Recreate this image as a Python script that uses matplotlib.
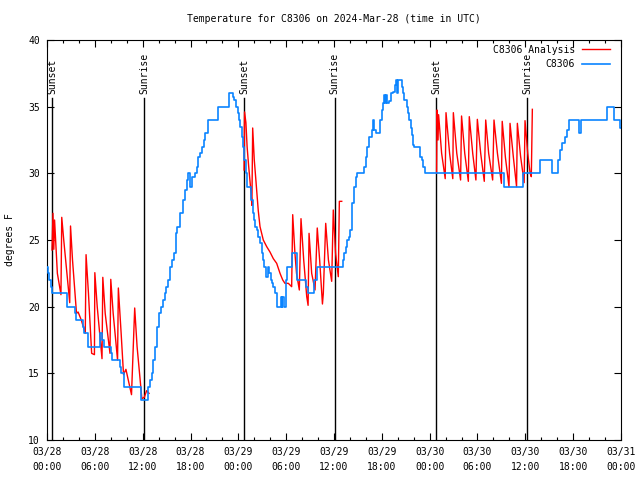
import matplotlib
matplotlib.use("Agg")
import matplotlib.pyplot as plt
from matplotlib.ticker import FixedLocator, MultipleLocator
import numpy as np

# ---- data (hours since 2024-03-28 00:00 UTC) ----
obs_hours = [0.00, 0.13, 0.31, 0.50, 0.63, 2.57, 3.51, 3.64, 4.52, 4.64, 5.14, 6.65, 6.96, 7.15,
             8.03, 8.15, 9.16, 9.28, 9.66, 11.79, 12.67, 12.92, 13.11, 13.30, 13.55, 13.80, 14.05,
             14.30, 14.55, 14.74, 14.93, 15.18, 15.43, 15.68, 15.87, 16.12, 16.31, 16.68, 17.00,
             17.12, 17.31, 17.50, 17.69, 17.94, 18.19, 18.56, 18.82, 19.00, 19.19, 19.44, 19.69,
             19.88, 20.20, 21.39, 22.89, 23.27, 23.46, 23.65, 23.90, 24.08, 24.21, 24.40, 24.59,
             24.77, 24.90, 25.03, 25.65, 25.78, 25.97, 26.09, 26.28, 26.47, 26.72, 26.91, 27.09,
             27.22, 27.47, 27.66, 27.85, 28.04, 28.22, 28.41, 28.60, 28.79, 28.91, 29.29, 29.42,
             29.54, 29.67, 29.98, 30.11, 30.79, 31.36, 32.55, 32.74, 33.43, 33.55, 33.81, 37.07,
             37.26, 37.51, 37.67, 37.88, 38.01, 38.20, 38.32, 38.51, 38.76, 38.92, 39.76, 39.98,
             40.18, 40.43, 40.73, 40.93, 41.06, 41.27, 41.83, 42.06, 42.18, 42.31, 42.40, 42.52,
             42.69, 42.90, 43.11, 43.36, 43.65, 43.78, 43.94, 44.07, 44.49, 44.62, 44.78, 45.12,
             45.32, 45.45, 45.62, 45.75, 45.95, 46.04, 46.73, 46.98, 47.20, 47.42, 57.33, 59.65,
             61.90, 63.35, 64.16, 64.41, 64.66, 64.98, 65.19, 65.48, 66.67, 66.92, 70.24, 71.18,
             71.88, 72.00]
obs_temps = [23, 22.5, 22, 21.5, 21, 20, 19.5, 19, 18.5, 18, 17, 18, 17.5, 17,
             16.5, 16, 15.5, 15, 14, 13, 14, 14.5, 15, 16, 17, 18.5, 19.5,
             20, 20.5, 21, 21.5, 22, 23, 23.5, 24, 25.5, 26, 27, 27.5,
             28, 28.75, 29.5, 30, 29, 29.75, 30, 30.5, 31.25, 31.5, 32, 32.5,
             33, 34, 35, 36, 35.75, 35.5, 35, 34.5, 34, 33.5, 32.75, 32,
             31, 30, 29, 28, 27, 26.5, 26, 25.75, 25.25, 24.75, 24, 23.5,
             23, 22.25, 23, 22.5, 22, 21.75, 21.5, 21, 20.5, 20, 20.75, 20,
             20.75, 20, 22, 23, 24, 22, 21.5, 21, 21.5, 22, 23, 23.5,
             24, 24.5, 25, 25.25, 25.75, 26.5, 27.75, 29, 29.75, 30, 30.5, 31.25,
             32, 32.75, 33.25, 34, 33.25, 33, 34, 34.75, 35.25, 35.9, 35.25, 35.9,
             35.25, 35.4, 36, 36.1, 36.6, 37, 36, 37, 36.5, 36, 35.5, 35,
             34.5, 34, 33.4, 32.9, 32.1, 32, 31.25, 31, 30.5, 30, 29, 30,
             31, 30, 31, 31.75, 32.25, 32.75, 33.25, 34, 33, 34, 35, 34,
             33.4, 33.4]

ana_hours = [0.63, 0.75, 0.85, 0.95, 1.30, 1.75, 1.85, 2.10, 2.85, 2.95, 3.20, 3.70, 3.90, 4.30,
             4.80, 4.90, 5.20, 5.60, 5.95, 6.00, 6.30, 6.90, 7.00, 7.30, 7.90, 8.00, 8.30, 8.85,
             8.95, 9.30, 9.60, 9.90, 10.60, 11.00, 11.30, 11.90, 12.20, 12.50, 12.80,
             None,
             24.72, 24.78, 24.95, 25.10, 25.30, 25.60, 25.70, 25.80, 26.00, 26.20, 26.50, 26.72,
             27.13, 27.56, 27.97, 28.39, 28.81, 29.23, 29.57, 29.85, 30.27, 30.69, 30.82, 31.10,
             31.30, 31.65, 31.86, 32.20, 32.58, 32.75, 32.87, 33.20, 33.62, 33.90, 34.20, 34.55,
             34.66, 34.96, 35.30, 35.71, 35.91, 36.20, 36.54, 36.67, 36.97,
             None,
             48.87, 48.92, 49.05, 49.12, 49.50, 49.95, 50.05, 50.50, 50.90, 50.97, 51.40, 51.88,
             52.00, 52.40, 52.85, 52.97, 53.40, 53.80, 53.98, 54.40, 54.85, 55.03, 55.40, 55.90,
             56.07, 56.50, 57.00, 57.10, 57.50, 57.95, 58.08, 58.50, 58.90, 59.00, 59.40, 59.85,
             59.96, 60.30, 60.60, 60.75, 60.88]
ana_temps = [24.25, 27.0, 24.3, 26.5, 22.5, 20.9, 26.7, 25.0, 20.3, 26.05, 23.5, 19.5, 19.6, 19.0,
             18.0, 23.9, 21.0, 16.5, 16.4, 22.55, 20.0, 16.1, 22.2, 19.5, 16.5, 22.05, 19.5, 16.0,
             21.4, 18.0, 14.9, 15.3, 13.4, 19.9, 17.0, 13.1, 13.2, 13.7, 13.5,
             None,
             30.25, 34.6, 33.8, 32.0, 30.5, 28.5, 27.6, 33.4, 31.0, 29.5, 27.2, 26.0,
             25.0, 24.5, 24.1, 23.6, 23.25, 22.5, 22.0, 21.75, 21.75, 21.5, 26.9, 24.0,
             22.5, 21.25, 26.6, 23.5, 20.75, 20.1, 25.5, 22.5, 21.25, 25.9, 23.5, 20.2,
             21.0, 26.25, 23.5, 21.9, 27.25, 24.0, 22.25, 27.9, 27.9,
             None,
             30.0, 34.75, 32.5, 34.4, 31.5, 29.6, 34.55, 31.5, 29.6, 34.55, 31.5, 29.5,
             34.3, 31.5, 29.4, 34.25, 31.5, 29.5, 34.05, 31.5, 29.4, 34.0, 31.5, 29.5,
             34.0, 31.5, 29.25, 33.9, 31.2, 29.0, 33.75, 31.2, 29.0, 33.75, 31.3, 29.3,
             33.95, 31.5, 30.0, 29.75, 34.8]

sun_hours = [0.63, 12.17, 24.7, 36.1, 48.8, 60.2]
sun_labels = ["Sunset", "Sunrise", "Sunset", "Sunrise", "Sunset", "Sunrise"]

xtick_hours = [0, 6, 12, 18, 24, 30, 36, 42, 48, 54, 60, 66, 72]
xtick_labels = ["03/28\n00:00", "03/28\n06:00", "03/28\n12:00", "03/28\n18:00",
                "03/29\n00:00", "03/29\n06:00", "03/29\n12:00", "03/29\n18:00",
                "03/30\n00:00", "03/30\n06:00", "03/30\n12:00", "03/30\n18:00",
                "03/31\n00:00"]
ytick_vals = [10, 15, 20, 25, 30, 35, 40]

# ---- plot ----
plt.rcParams['font.family'] = ['DejaVu Sans Mono']
fig = plt.figure(figsize=(6.4, 4.8), dpi=100)
ax = fig.add_axes([47/640, 40/480, 574/640, 400/480])

ah = np.array([np.nan if v is None else v for v in ana_hours], dtype=float)
at = np.array([np.nan if v is None else v for v in ana_temps], dtype=float)

for h, lab in zip(sun_hours, sun_labels):
    ax.plot([h, h], [10, 35.65], color='black', lw=1.0, zorder=1)
    ax.text(h, 35.95, lab, rotation=90, ha='center', va='bottom', fontsize=7, zorder=1)

ax.plot(ah, at, color='#ff0000', lw=1.0, label='C8306 Analysis', zorder=3)
ax.plot(obs_hours, obs_temps, color='#0a84ff', lw=1.2, drawstyle='steps-post',
        label='C8306', zorder=4)

ax.set_xlim(0, 72)
ax.set_ylim(10, 40)
ax.xaxis.set_major_locator(FixedLocator(xtick_hours))
ax.set_xticklabels(xtick_labels, fontsize=7, linespacing=1.65)
ax.xaxis.set_minor_locator(MultipleLocator(2))
ax.set_yticks(ytick_vals)
ax.set_yticklabels([str(v) for v in ytick_vals], fontsize=7)
ax.tick_params(which='both', direction='in', top=True, right=True, width=0.8)
ax.tick_params(which='major', length=5, pad=5)
ax.tick_params(which='minor', length=2.5)
ax.tick_params(axis='y', pad=5)
for s in ax.spines.values():
    s.set_linewidth(0.8)

ax.set_title("Temperature for C8306 on 2024-Mar-28 (time in UTC)", fontsize=7, pad=13)
fig.text(10/640, 0.5, "degrees F", rotation=90, ha='center', va='center', fontsize=7)

ax.legend(loc='upper right', bbox_to_anchor=(0.981, 0.9885), markerfirst=False,
          frameon=False, fontsize=7, handlelength=2.9, handletextpad=0.7,
          labelspacing=0.45, borderpad=0.0, borderaxespad=0.0)

fig.savefig("out.png", dpi=100)
